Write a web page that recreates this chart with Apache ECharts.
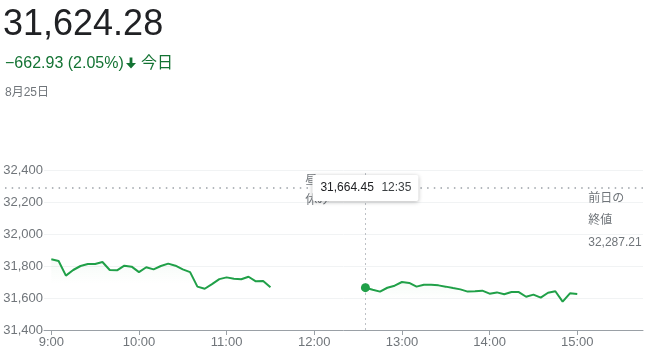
<!DOCTYPE html>
<html><head><meta charset="utf-8">
<script src="https://cdn.jsdelivr.net/npm/echarts@6/dist/echarts.min.js"></script>
<style>html,body{margin:0;padding:0;background:#fff}#c{width:650px;height:352px}</style>
</head><body><div id="c"></div>
<script>
const morningTimes = ["9:00","9:05","9:10","9:15","9:20","9:25","9:30","9:35","9:40","9:45","9:50","9:55","10:00","10:05","10:10","10:15","10:20","10:25","10:30","10:35","10:40","10:45","10:50","10:55","11:00","11:05","11:10","11:15","11:20","11:25","11:30"];
const morningValues = [31842,31831,31740,31775,31800,31812,31812,31825,31775,31773,31802,31796,31762,31792,31779,31800,31815,31802,31779,31762,31671,31658,31687,31718,31729,31721,31717,31733,31704,31706,31667];
const afternoonTimes = ["12:35","12:40","12:45","12:50","12:55","13:00","13:05","13:10","13:15","13:20","13:25","13:30","13:35","13:40","13:45","13:50","13:55","14:00","14:05","14:10","14:15","14:20","14:25","14:30","14:35","14:40","14:45","14:50","14:55","15:00"];
const afternoonValues = [31664.45,31652,31640,31664,31677,31700,31694,31671,31683,31683,31679,31671,31662,31654,31640,31642,31646,31627,31635,31623,31637,31637,31608,31621,31602,31633,31642,31577,31629,31624.28];
const hourTicks = ["9:00","10:00","11:00","12:00","13:00","14:00","15:00"];
const yTicks = [31400,31600,31800,32000,32200,32400];
const prevClose = 32287.21;
const lastPrice = "31,624.28";
const changeText = "\u2212662.93 (2.05%)";
const todayText = "今日";
const dateText = "8月25日";
const lunchText = ["昼", "休み"];
const prevCloseText = ["前日の", "終値", "32,287.21"];
const hoverIndex = 0;

const toMin = t => { const p = t.split(':').map(Number); return p[0]*60 + p[1]; };
const fmtTime = v => Math.floor(v/60) + ':' + String(v%60).padStart(2,'0');
const FONT = 'Arial, "Liberation Sans", "Noto Sans CJK JP", sans-serif';
const GREEN = '#20a048';
const GRAY = '#70757a';

const chart = echarts.init(document.getElementById('c'), null, {renderer:'canvas'});
const area = {color: new echarts.graphic.LinearGradient(0,0,0,1,[{offset:0,color:'rgba(52,168,83,0.07)'},{offset:0.35,color:'rgba(52,168,83,0)'}])};
const tickVals = hourTicks.map(toMin);
chart.setOption({
  animation:false,
  textStyle:{fontFamily:FONT},
  grid:{left:44,right:7,top:170,bottom:22},
  xAxis:{type:'value',min:535,max:945,
    axisLine:{lineStyle:{color:'#9aa0a6',width:1}},
    axisTick:{show:true,customValues:tickVals,length:5,lineStyle:{color:'#9aa0a6'}},
    axisLabel:{customValues:tickVals,formatter:v=>fmtTime(v),color:GRAY,fontSize:13,margin:6,fontFamily:FONT},
    splitLine:{show:false}},
  yAxis:{type:'value',min:yTicks[0],max:yTicks[yTicks.length-1],interval:200,
    axisLine:{show:false},axisTick:{show:false},
    axisLabel:{formatter:v=>v.toLocaleString('en-US'),color:GRAY,fontSize:13,margin:1,fontFamily:FONT},
    splitLine:{lineStyle:{color:'#f1f3f4'}}},
  series:[
    {type:'line',data:morningTimes.map((t,i)=>[toMin(t),morningValues[i]]),symbol:'none',
      lineStyle:{color:GREEN,width:2},areaStyle:area},
    {type:'line',data:afternoonTimes.map((t,i)=>[toMin(t),afternoonValues[i]]),symbol:'none',
      lineStyle:{color:GREEN,width:2},areaStyle:area,
      markLine:{silent:true,symbol:'none',label:{show:false},
        lineStyle:{color:'#bdc1c6',type:[2,3],width:1},
        data:[{xAxis:toMin(afternoonTimes[hoverIndex])}]}},
    {type:'scatter',data:[[toMin(afternoonTimes[hoverIndex]),afternoonValues[hoverIndex]]],
      symbolSize:9,itemStyle:{color:GREEN,opacity:1},z:5}
  ]
});

const px = (t,v) => chart.convertToPixel({gridIndex:0},[t,v]);
const pc = px(535, prevClose);
const rightEdge = px(945, prevClose)[0];
const hov = px(toMin(afternoonTimes[hoverIndex]), afternoonValues[hoverIndex]);
const noon = px(toMin("12:00"), prevClose)[0];
const three = px(toMin("15:00"), prevClose)[0];
const gridTop = px(535, 32400)[1];
const g = [];
g.push({type:'text',x:3,y:25,style:{text:lastPrice,font:'36px '+FONT,fill:'#202124',verticalAlign:'middle'}});
g.push({type:'text',x:5,y:64,style:{text:changeText,font:'16px '+FONT,fill:'#137333',verticalAlign:'middle'}});
g.push({type:'polygon',shape:{points:[[129.6,57.5],[132.4,57.5],[132.4,63],[136,63],[131,68.5],[126,63],[129.6,63]]},style:{fill:'#137333'}});
g.push({type:'text',x:141,y:64,style:{text:todayText,font:'16px '+FONT,fill:'#137333',verticalAlign:'middle'}});
g.push({type:'text',x:5,y:93,style:{text:dateText,font:'12px '+FONT,fill:GRAY,verticalAlign:'middle'}});
g.push({type:'line',shape:{x1:5,y1:pc[1],x2:rightEdge+2,y2:pc[1]},style:{stroke:'#9aa0a6',lineWidth:1.5,lineDash:[1.5,5.2]},z:3});
g.push({type:'text',x:noon-9,y:181,style:{text:lunchText[0],font:'12px '+FONT,fill:GRAY,verticalAlign:'middle'},z:4});
g.push({type:'text',x:noon-9,y:201,style:{text:lunchText[1],font:'12px '+FONT,fill:GRAY,verticalAlign:'middle'},z:4});
prevCloseText.forEach((s,i)=>g.push({type:'text',x:three+11,y:199+i*21.6,style:{text:s,font:'12px '+FONT,fill:GRAY,verticalAlign:'middle'},z:4}));
const bw = 106, bh = 26;
g.push({type:'rect',shape:{x:hov[0]-bw/2,y:gridTop+5,width:bw,height:bh,r:2},
  style:{fill:'#fff',shadowBlur:4,shadowColor:'rgba(0,0,0,0.28)',shadowOffsetY:1},z:10});
g.push({type:'text',x:hov[0]-bw/2+8,y:gridTop+5+bh/2,style:{text:afternoonValues[hoverIndex].toLocaleString('en-US',{minimumFractionDigits:2}),font:'12px '+FONT,fill:'#202124',verticalAlign:'middle'},z:11});
g.push({type:'text',x:hov[0]-bw/2+69,y:gridTop+5+bh/2,style:{text:afternoonTimes[hoverIndex],font:'12px '+FONT,fill:'#3c4043',verticalAlign:'middle'},z:11});
chart.setOption({graphic:g});
</script></body></html>
